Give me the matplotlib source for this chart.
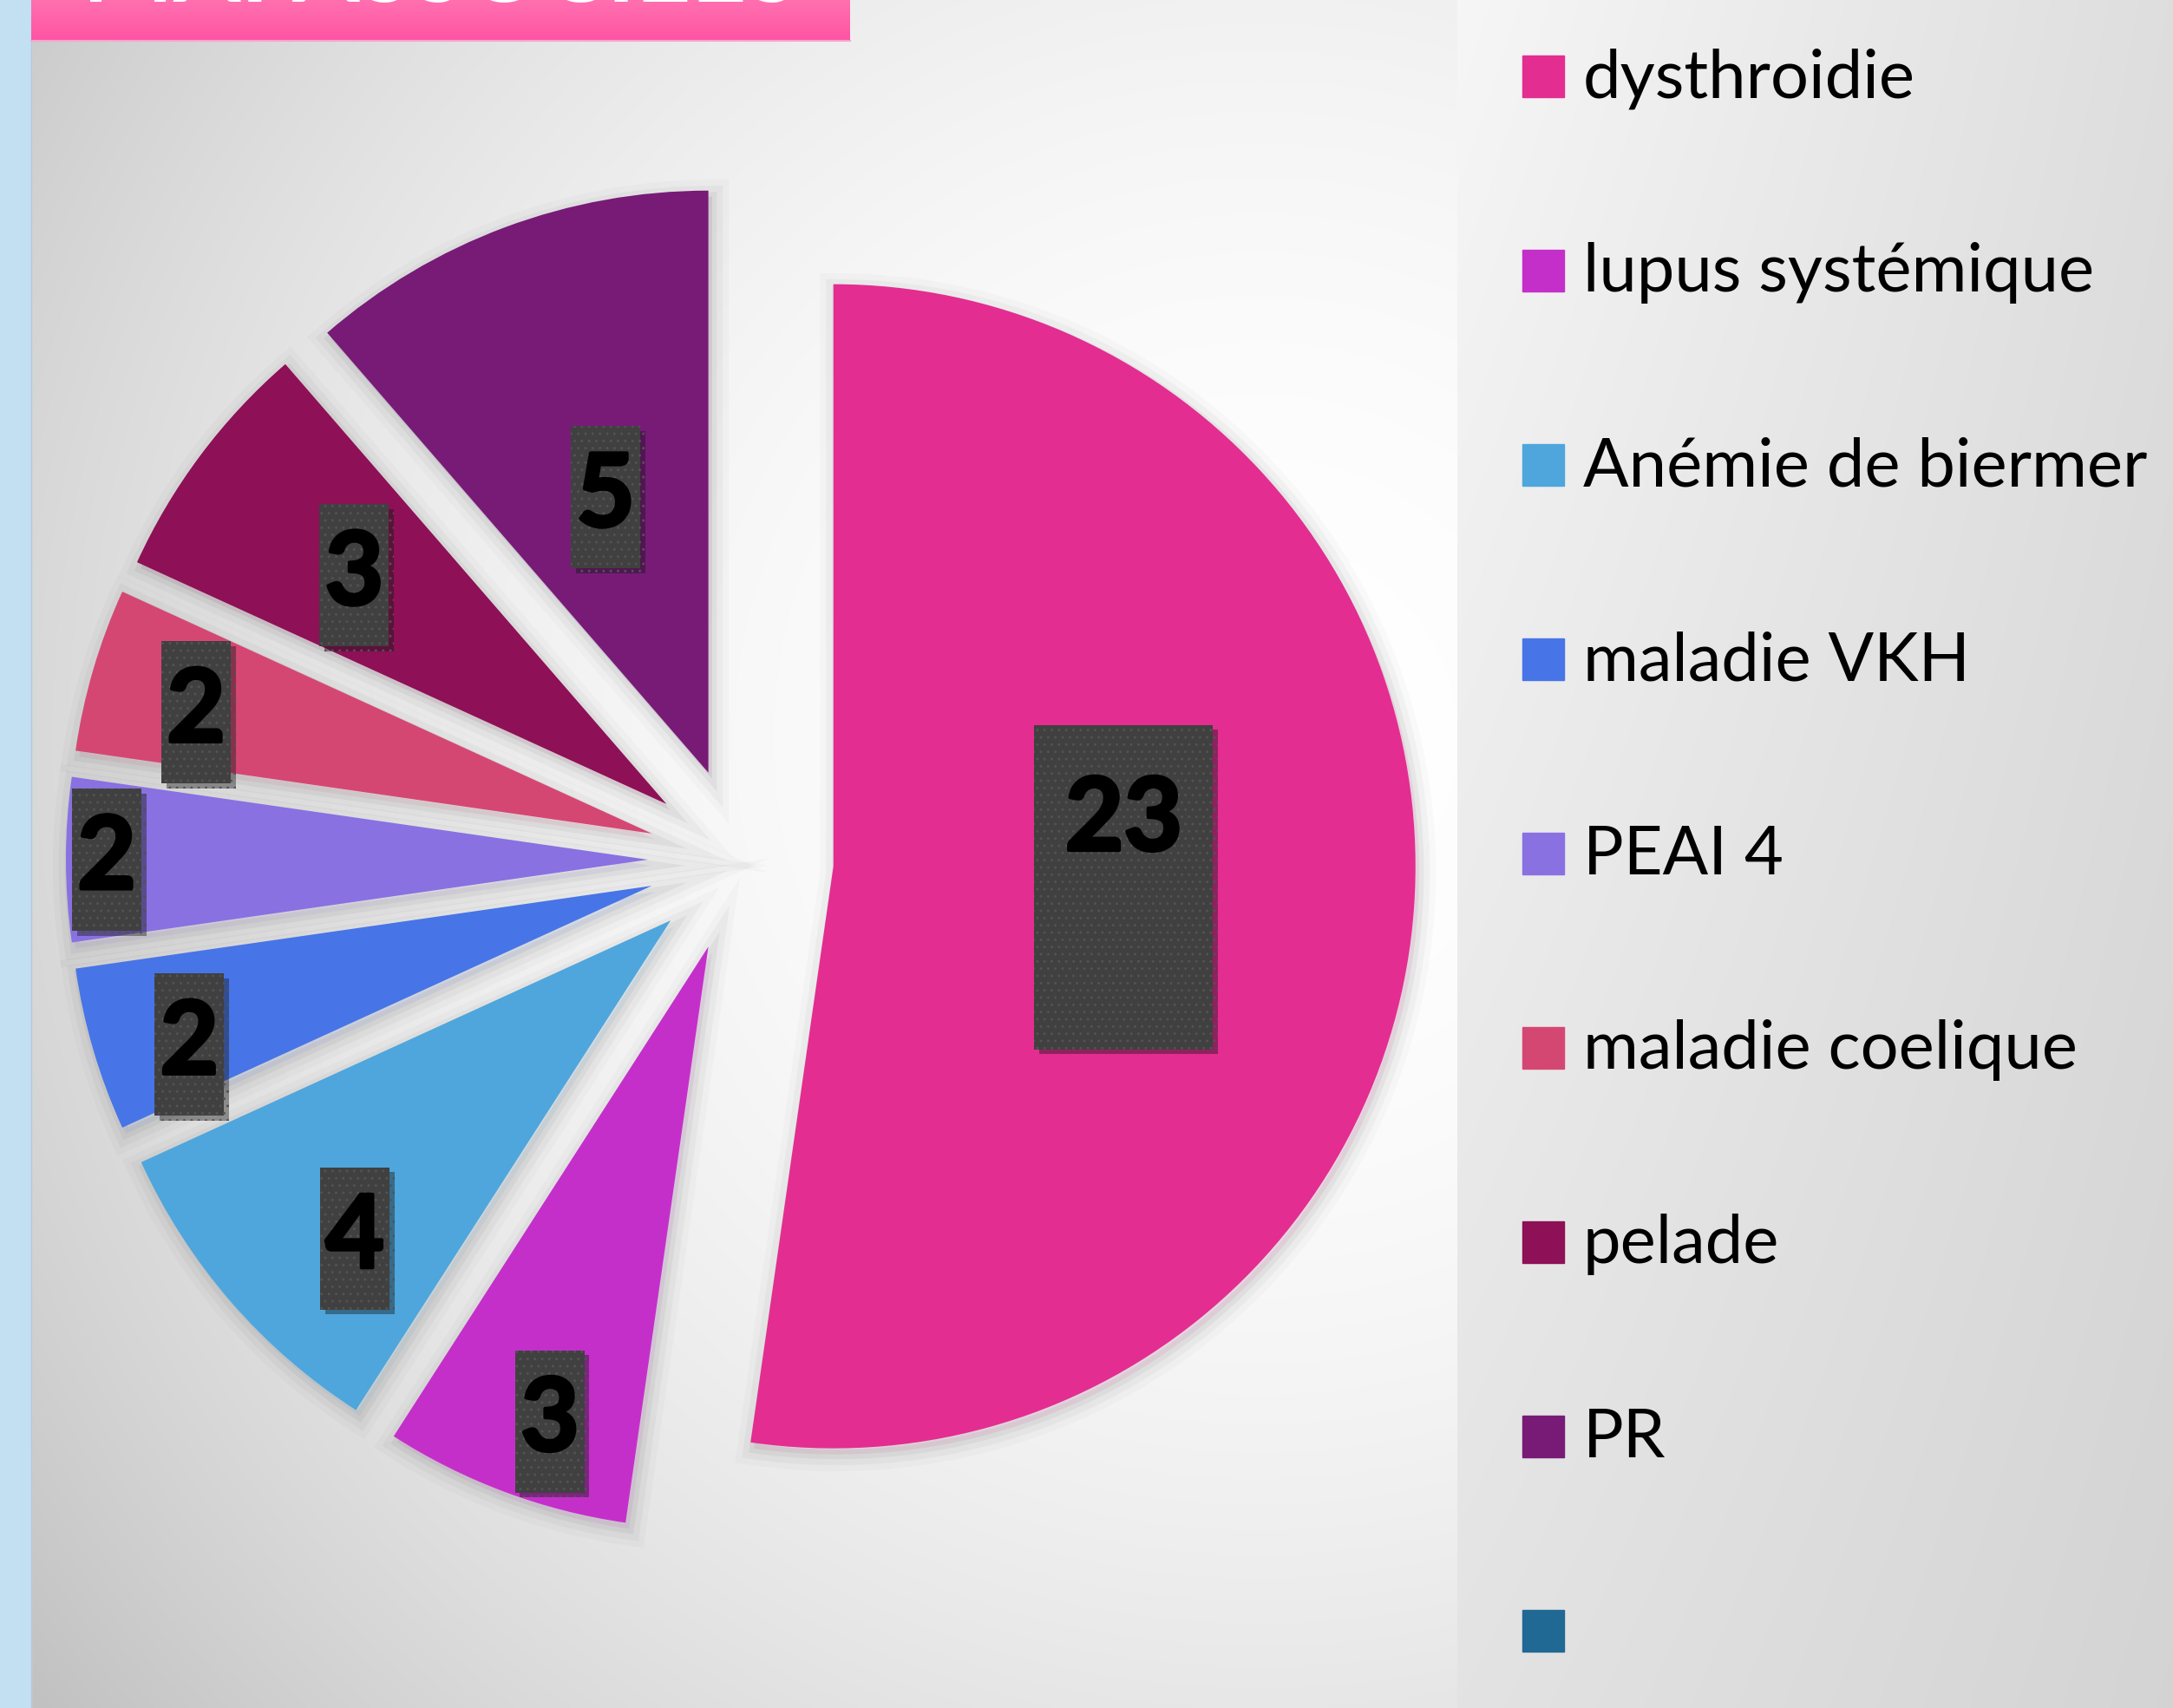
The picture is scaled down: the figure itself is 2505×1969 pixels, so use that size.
import numpy as np
import matplotlib.pyplot as plt
from matplotlib.patches import Rectangle
from matplotlib import patheffects as pe

plt.rcParams['font.family'] = ['Lato', 'DejaVu Sans']

# data
categories = ["dysthroidie", "lupus systémique", "Anémie de biermer", "maladie VKH",
              "PEAI 4", "maladie coelique", "pelade", "PR", ""]
counts = [23, 3, 4, 2, 2, 2, 3, 5, 0]
colors = ["#E32D91", "#C42FCA", "#4EA6DC", "#4775E7", "#8971E1",
          "#D54773", "#8E1056", "#771B77", "#1F6994"]
title = "MAI ASSOCIÉES"

# where each value label sits: fraction of radius, small turn off the mid angle (deg)
label_dist = [0.5, 0.86, 0.77, 0.84, 0.93, 0.81, 0.665, 0.505]
label_turn = [0, 2.0, 4.3, 2.6, 0, 1.5, 0.6, 0]

W, H = 2505, 1969
fig = plt.figure(figsize=(W / 100, H / 100), dpi=100)
ax = fig.add_axes([0, 0, 1, 1])

# backgrounds
yy, xx = np.mgrid[0:H:4, 36:1680:4]
d2 = (xx - 1450.0) ** 2 + (yy - 850.0) ** 2
v = np.clip(1 - 7.5e-8 * d2, 0.76, 1.0)
ax.imshow(np.dstack([v, v, v]), extent=(36, 1680, 0, H), origin='upper',
          interpolation='bilinear', zorder=0)

yy2, xx2 = np.mgrid[0:H:4, 1680:W:4]
fx = (xx2 - 1680) / (W - 1680)
fy = yy2 / H
v2 = (0.965 * (1 - fx) * (1 - fy) + 0.87 * fx * (1 - fy)
      + 0.89 * (1 - fx) * fy + 0.83 * fx * fy)
ax.imshow(np.dstack([v2, v2, v2]), extent=(1680, W, 0, H), origin='upper',
          interpolation='bilinear', zorder=0)

ax.add_patch(Rectangle((0, 0), 36, H, color="#C3E0F3", zorder=1))
ax.plot([36, 36], [0, H], color="#b8c8d4", lw=1, zorder=1)

# title bar (title text runs off the top edge, as in the slide)
g = np.linspace(0, 1, 50)[:, None]
top, bot = np.array([1.0, 0.44, 0.69]), np.array([1.0, 0.33, 0.64])
bar = top * (1 - g[..., None]) + bot * g[..., None]
bar = np.repeat(bar, 2, axis=1)
ax.imshow(bar, extent=(36, 980, H - 47, H), origin='upper', aspect='auto', zorder=1)
ax.plot([36, 980], [H - 47, H - 47], color="#f2a6cf", lw=1.5, zorder=1)
ax.text(508, H - 2, title, color='white', fontsize=80, fontweight='bold',
        ha='center', va='baseline', zorder=2)

# pie
vals = [c for c in counts if c > 0]
cols = [col for c, col in zip(counts, colors) if c > 0]
total = sum(vals)

wedges, texts, autotexts = ax.pie(
    vals, colors=cols, startangle=90, counterclock=False,
    explode=[107] * len(vals), radius=671, center=(854, 978),
    autopct=lambda p: f"{round(p * total / 100):d}",
    textprops=dict(fontsize=84, fontweight='bold', color='black'),
    wedgeprops=dict(linewidth=0))

shadow = [pe.Stroke(linewidth=28, foreground='k', alpha=0.02, offset=(3, -5)),
          pe.Stroke(linewidth=18, foreground='k', alpha=0.03, offset=(3, -5)),
          pe.Stroke(linewidth=8, foreground='k', alpha=0.045, offset=(3, -5)),
          pe.Normal()]
for w in wedges:
    w.set_zorder(3)
    w.set_path_effects(shadow)

for w, t, dist, turn in zip(wedges, autotexts, label_dist, label_turn):
    mid = np.deg2rad((w.theta1 + w.theta2) / 2 + turn)
    cx, cy = w.center
    x = cx + dist * w.r * np.cos(mid)
    y = cy + dist * w.r * np.sin(mid)
    big = len(t.get_text()) > 1
    bw, bh = (206, 374) if big else (80, 164)
    box = Rectangle((x - bw / 2, y - bh / 2), bw, bh, facecolor="#404040",
                    edgecolor="#525252", linewidth=0, hatch='..', zorder=4)
    box.set_path_effects([pe.SimplePatchShadow(offset=(4, -4), alpha=0.4), pe.Normal()])
    ax.add_patch(box)
    t.set_zorder(5)
    t.set_path_effects([pe.withStroke(linewidth=3, foreground='black')])
    t.set_position((x, y + 76) if big else (x, y))

# legend
for i, (name, col) in enumerate(zip(categories, colors)):
    yc = H - (88 + 224 * i)
    ax.add_patch(Rectangle((1755, yc - 24), 48, 48, color=col, zorder=3))
    ax.text(1825, yc - 24, name, fontsize=56, va='baseline', ha='left', zorder=3)

ax.set_xlim(0, W)
ax.set_ylim(0, H)
ax.axis('off')

fig.savefig("out.png", dpi=100)
